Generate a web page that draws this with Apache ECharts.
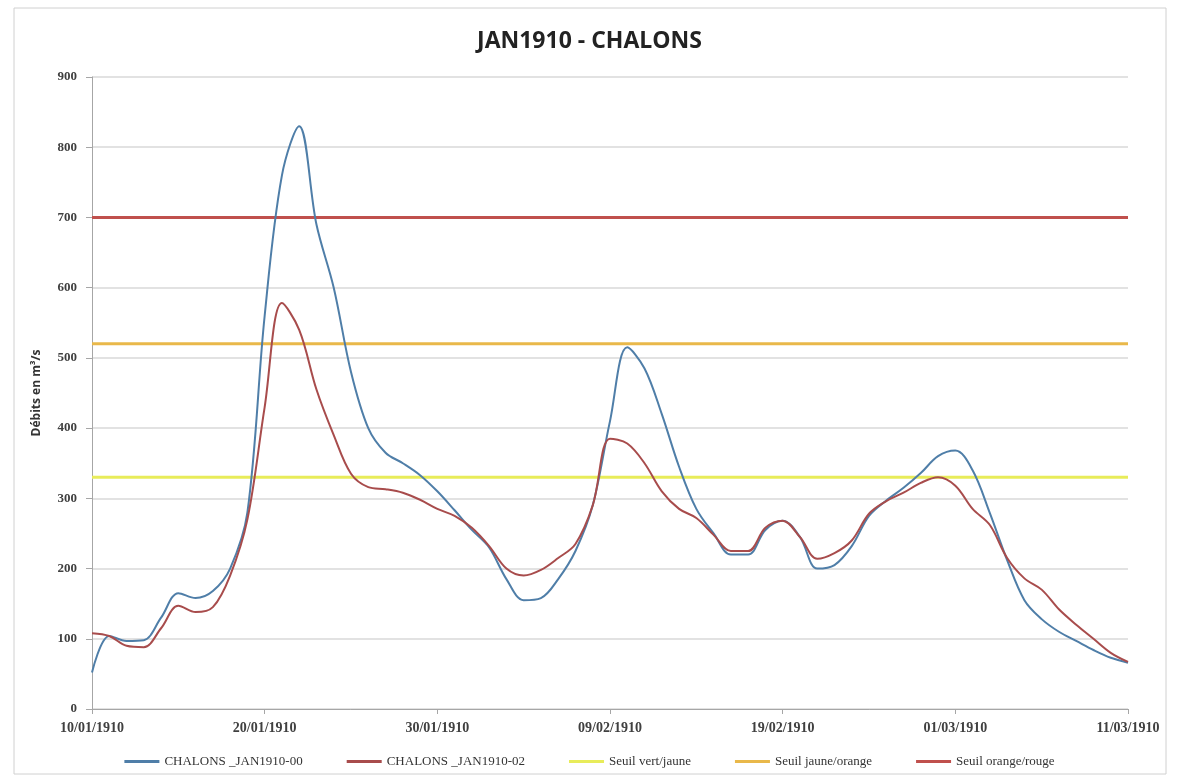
<!DOCTYPE html>
<html>
<head>
<meta charset="utf-8">
<script src="https://cdn.jsdelivr.net/npm/echarts@6/dist/echarts.min.js"></script>
<style>
  html, body { margin: 0; padding: 0; background: #fff; }
  #chart { width: 1179px; height: 778px; }
</style>
</head>
<body>
<div id="chart"></div>
<script>
// days counted from 10/01/1910
const tickLabels = ['10/01/1910', '20/01/1910', '30/01/1910', '09/02/1910', '19/02/1910', '01/03/1910', '11/03/1910'];

const days = [];
for (let d = 0; d <= 60; d++) days.push(d);

const chalons00 = [52, 104, 97, 98, 130, 165, 158, 168, 200, 280,
  560, 760, 830, 690, 600, 480, 400, 365, 350, 333,
  310, 283, 255, 230, 185, 155, 158, 185, 225, 290,
  410, 515, 485, 420, 345, 285, 250, 220, 220, 255,
  268, 245, 200, 205, 232, 275, 297, 315, 336, 360,
  368, 340, 279, 212, 155, 128, 110, 97, 84, 73, 66];

const chalons02 = [108, 104, 90, 88, 115, 147, 138, 145, 190, 270,
  430, 578, 540, 455, 390, 335, 316, 313, 308, 298,
  285, 275, 258, 232, 200, 190, 198, 215, 235, 290,
  385, 378, 350, 310, 285, 272, 248, 225, 225, 258,
  268, 245, 214, 222, 240, 278, 296, 308, 322, 330,
  318, 285, 262, 215, 186, 170, 142, 120, 100, 80, 67];

const seuilVertJaune = 330;
const seuilJauneOrange = 520;
const seuilOrangeRouge = 700;

const chart = echarts.init(document.getElementById('chart'));

function pairs(vals) {
  return days.map((d, i) => [d, vals[i]]);
}
function flat(v) {
  return [[0, v], [60, v]];
}

const option = {
  backgroundColor: '#fff',
  animation: false,
  graphic: [{
    type: 'rect',
    shape: { x: 14, y: 8, width: 1152, height: 766 },
    style: { fill: 'none', stroke: '#d0d0d0', lineWidth: 1 },
    silent: true
  }],
  title: {
    text: 'JAN1910 - CHALONS',
    left: 'center',
    top: 25,
    textStyle: { fontFamily: 'Open Sans', fontWeight: 'bold', fontSize: 23, color: '#222' }
  },
  legend: {
    bottom: 5,
    left: 'center',
    itemGap: 44,
    itemWidth: 35,
    itemHeight: 3,
    icon: 'rect',
    textStyle: { fontFamily: 'Liberation Serif', fontSize: 13, color: '#333' },
    data: ['CHALONS _JAN1910-00', 'CHALONS _JAN1910-02', 'Seuil vert/jaune', 'Seuil jaune/orange', 'Seuil orange/rouge']
  },
  grid: { left: 92, right: 51, top: 77, bottom: 69 },
  xAxis: {
    type: 'value',
    min: 0,
    max: 60,
    interval: 10,
    axisLine: { lineStyle: { color: '#a6a6a6' } },
    axisTick: { show: true, length: 5, lineStyle: { color: '#a6a6a6' } },
    splitLine: { show: false },
    axisLabel: {
      margin: 12,
      fontFamily: 'Liberation Serif',
      fontWeight: 'bold',
      fontSize: 14,
      color: '#404040',
      formatter: v => tickLabels[Math.round(v / 10)] || ''
    }
  },
  yAxis: {
    type: 'value',
    min: 0,
    max: 900,
    interval: 100,
    name: 'Débits en m³/s',
    nameLocation: 'middle',
    nameGap: 49,
    nameTextStyle: { fontFamily: 'Open Sans', fontWeight: 'bold', fontSize: 12, color: '#333' },
    axisLine: { show: true, lineStyle: { color: '#a6a6a6' } },
    axisTick: { show: true, length: 6, lineStyle: { color: '#a6a6a6' } },
    splitLine: { lineStyle: { color: '#d9d9d9', width: 1.5 } },
    axisLabel: {
      margin: 15,
      fontFamily: 'Liberation Serif',
      fontWeight: 'bold',
      fontSize: 13,
      color: '#404040'
    }
  },
  series: [
    {
      name: 'CHALONS _JAN1910-00',
      type: 'line',
      data: pairs(chalons00),
      smooth: 0.35,
      showSymbol: false,
      z: 4,
      itemStyle: { color: '#4f7ea8' },
      lineStyle: { color: '#4f7ea8', width: 2 }
    },
    {
      name: 'CHALONS _JAN1910-02',
      type: 'line',
      data: pairs(chalons02),
      smooth: 0.35,
      showSymbol: false,
      z: 5,
      itemStyle: { color: '#a84c4c' },
      lineStyle: { color: '#a84c4c', width: 2 }
    },
    {
      name: 'Seuil vert/jaune',
      type: 'line',
      data: flat(seuilVertJaune),
      showSymbol: false,
      z: 3,
      itemStyle: { color: '#e8ec5a' },
      lineStyle: { color: '#e8ec5a', width: 3 }
    },
    {
      name: 'Seuil jaune/orange',
      type: 'line',
      data: flat(seuilJauneOrange),
      showSymbol: false,
      z: 3,
      itemStyle: { color: '#e9b84a' },
      lineStyle: { color: '#e9b84a', width: 3 }
    },
    {
      name: 'Seuil orange/rouge',
      type: 'line',
      data: flat(seuilOrangeRouge),
      showSymbol: false,
      z: 3,
      itemStyle: { color: '#c0504d' },
      lineStyle: { color: '#c0504d', width: 3 }
    }
  ]
};

chart.setOption(option);
</script>
</body>
</html>
